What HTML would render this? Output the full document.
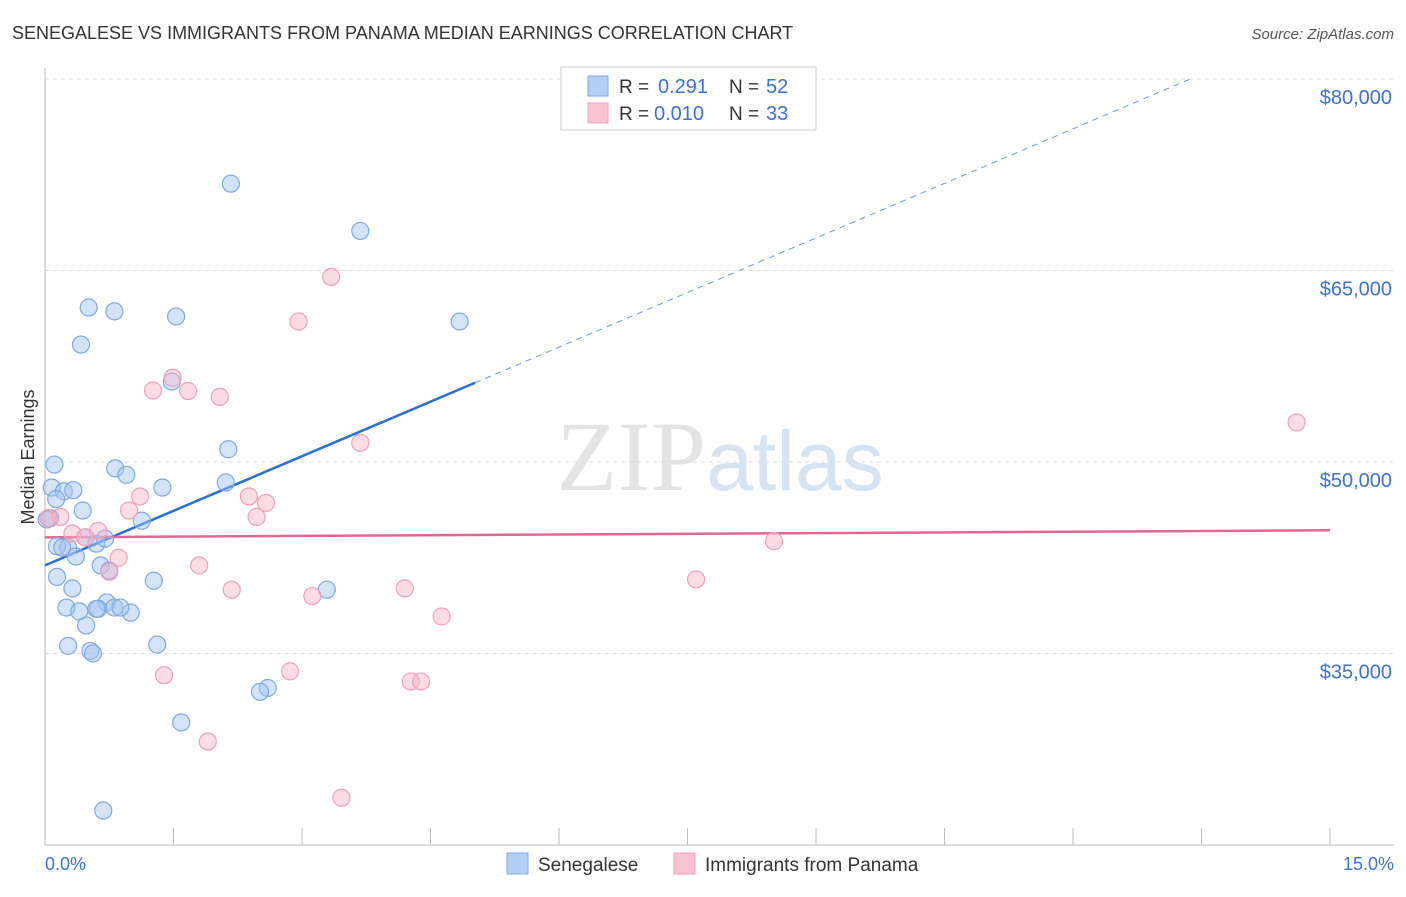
<!DOCTYPE html>
<html><head><meta charset="utf-8"><style>
body{margin:0;background:#fff;font-family:"Liberation Sans",sans-serif;}
</style></head><body>
<svg width="1406" height="892" xmlns="http://www.w3.org/2000/svg" font-family="Liberation Sans, sans-serif">
<text x="12" y="39" font-size="18" fill="#333">SENEGALESE VS IMMIGRANTS FROM PANAMA MEDIAN EARNINGS CORRELATION CHART</text>
<text x="1394" y="39" font-size="15" fill="#555" text-anchor="end" font-style="italic">Source: ZipAtlas.com</text>
<text x="720" y="490" font-size="100" text-anchor="middle" fill="#e4e4e4" font-family="Liberation Serif, serif">ZIP<tspan fill="#d5e3f3" font-family="Liberation Sans, sans-serif" font-size="84">atlas</tspan></text>
<g id="grid"></g>
<line x1="45" y1="68" x2="45" y2="845" stroke="#bbb"/>
<line x1="45" y1="845" x2="1394" y2="845" stroke="#bbb"/>
<g id="ticks"></g>
<text transform="translate(34,457) rotate(-90)" font-size="18" fill="#333" text-anchor="middle">Median Earnings</text>
<text x="45" y="870" font-size="18" fill="#3a72d8">0.0%</text>
<text x="1394" y="870" font-size="18" fill="#3a72d8" text-anchor="end">15.0%</text>
<g id="lines"></g>
<g id="points"></g>
<g>
<rect x="561" y="67" width="255" height="63" fill="#fff" stroke="#ccc"/>
<rect x="588" y="76" width="20" height="20" fill="#b3cff5" stroke="#7fa9e0"/>
<rect x="588" y="103" width="20" height="20" fill="#f9c3d3" stroke="#f0a0b8"/>
<text x="619" y="93" font-size="19" fill="#333">R =</text>
<text x="658" y="93" font-size="20" fill="#3a72d8">0.291</text>
<text x="729" y="93" font-size="19" fill="#333">N =</text>
<text x="766" y="93" font-size="20" fill="#3a72d8">52</text>
<text x="619" y="120" font-size="19" fill="#333">R =</text>
<text x="654" y="120" font-size="20" fill="#3a72d8">0.010</text>
<text x="729" y="120" font-size="19" fill="#333">N =</text>
<text x="766" y="120" font-size="20" fill="#3a72d8">33</text>
</g>
<g>
<rect x="507" y="853" width="21" height="21" fill="#b3cff5" stroke="#7fa9e0"/>
<text x="538" y="871" font-size="19" fill="#333">Senegalese</text>
<rect x="674" y="853" width="21" height="21" fill="#f9c3d3" stroke="#f0a0b8"/>
<text x="705" y="871" font-size="19" fill="#333">Immigrants from Panama</text>
</g>
</svg>
<script>
const yTicks=[80000,65000,50000,35000];
const yTickLabels=["$80,000","$65,000","$50,000","$35,000"];
const xTicks=[0,1.5,3,4.5,6,7.5,9,10.5,12,13.5,15];
const blueX=[2.17,3.68,0.51,0.81,1.53,4.84,0.42,1.48,2.14,0.11,0.82,0.95,0.08,2.11,1.37,0.22,0.33,0.13,0.44,0.06,1.13,0.14,0.27,0.60,0.70,0.47,0.36,0.65,0.75,0.14,1.27,0.32,0.25,0.40,0.72,0.62,0.81,0.60,1.00,0.48,0.27,1.31,0.53,0.56,3.29,2.60,2.51,1.59,0.68,0.02,0.20,0.88];
const blueY=[71800,68100,62100,61800,61400,61000,59200,56300,51000,49800,49500,49000,48000,48400,48000,47700,47800,47100,46200,45600,45400,43400,43300,43600,44000,44100,42600,41900,41500,41000,40700,40100,38600,38300,39000,38500,38600,38500,38200,37200,35600,35700,35200,35000,40000,32300,32000,29600,22700,45500,43300,38600];
const pinkX=[3.34,2.96,1.49,1.26,1.67,2.04,14.61,3.68,1.11,2.38,2.58,0.98,2.47,0.18,0.04,0.62,0.32,0.47,0.86,0.75,1.80,2.18,4.20,3.12,4.63,7.60,8.51,1.39,2.86,4.27,4.39,1.90,3.46];
const pinkY=[64500,61000,56600,55600,55560,55100,53100,51500,47300,47300,46800,46200,45700,45700,45600,44600,44400,44100,42500,41400,41900,40000,40100,39500,37900,40800,43800,33300,33600,32800,32800,28100,23700];
const blueTrend=[41900,2850];
const pinkTrend=[44100,36.7];
const NS="http://www.w3.org/2000/svg";
const X=p=>45+p*85.67, Y=v=>79+(80000-v)*191.5/15000;
function mk(t,a,parent){const e=document.createElementNS(NS,t);for(const k in a)e.setAttribute(k,a[k]);document.getElementById(parent).appendChild(e);return e;}
yTicks.forEach((v,i)=>{
 const g=mk('line',{x1:45,x2:1394,y1:Y(v),y2:Y(v),stroke:'#ddd','stroke-dasharray':'4,4'},'grid');
 
 
 const t=mk('text',{x:1392,y:Y(v)+25,'font-size':20,fill:'#3a72d8','text-anchor':'end'},'grid');
 t.textContent=yTickLabels[i];
 
 
});
xTicks.forEach(p=>{
 const l=mk('line',{x1:X(p),x2:X(p),y1:828,y2:845,stroke:'#bbb'},'ticks');
 
 
});
let bl=mk('line',{x1:X(0),y1:Y(blueTrend[0]),x2:X(5.02),y2:Y(blueTrend[0]+blueTrend[1]*5.02),stroke:'#2a6fd6','stroke-width':2.5},'lines');


const xe=(80000-blueTrend[0])/blueTrend[1];
let bd=mk('line',{x1:X(5.02),y1:Y(blueTrend[0]+blueTrend[1]*5.02),x2:X(xe),y2:Y(80000),stroke:'#6b9be0','stroke-width':1,'stroke-dasharray':'6,5'},'lines');


let pl=mk('line',{x1:X(0),y1:Y(pinkTrend[0]),x2:X(15),y2:Y(pinkTrend[0]+pinkTrend[1]*15),stroke:'#e66590','stroke-width':2.5},'lines');


blueX.forEach((x,i)=>{
 const c=mk('circle',{cx:X(x),cy:Y(blueY[i]),r:8.5,fill:'rgba(160,196,240,0.45)',stroke:'#7fa9e0','stroke-width':1.2},'points');
 
 
});
pinkX.forEach((x,i)=>{
 const c=mk('circle',{cx:X(x),cy:Y(pinkY[i]),r:8.5,fill:'rgba(248,180,200,0.45)',stroke:'#f0a0b8','stroke-width':1.2},'points');
 
 
});
</script>
</body></html>
